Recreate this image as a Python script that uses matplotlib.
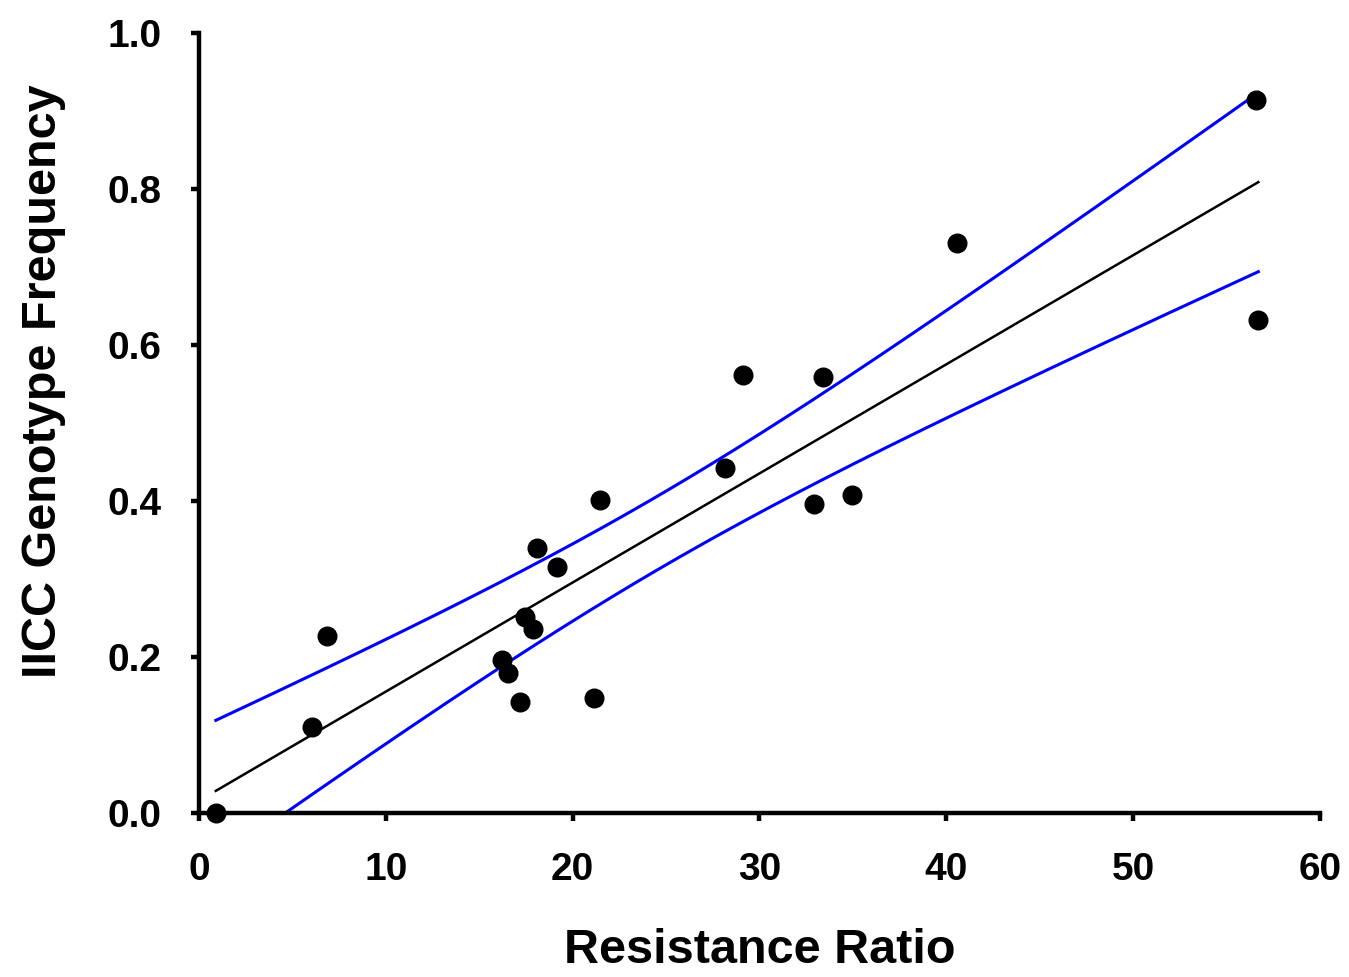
import numpy as np
import matplotlib
matplotlib.use("Agg")
import matplotlib.pyplot as plt

# Data
resistance_ratio = [0.9, 6.05, 6.85, 16.2, 16.55, 17.2, 17.45, 17.9, 18.1, 19.15,
                    21.15, 21.47, 28.16, 29.12, 32.9, 33.4, 34.96, 40.58, 56.6, 56.7]
iicc_freq = [0.0, 0.110, 0.227, 0.196, 0.179, 0.142, 0.251, 0.236, 0.340, 0.315,
             0.147, 0.401, 0.442, 0.562, 0.396, 0.559, 0.408, 0.731, 0.914, 0.632]
x_ticks = [0, 10, 20, 30, 40, 50, 60]
y_ticks = [0.0, 0.2, 0.4, 0.6, 0.8, 1.0]
x_label = "Resistance Ratio"
y_label = "IICC Genotype Frequency"

plt.rcParams['font.family'] = ['Liberation Sans', 'DejaVu Sans']
plt.rcParams['font.weight'] = 'bold'

x = np.array(resistance_ratio)
y = np.array(iicc_freq)
n = len(x)
slope, intercept = np.polyfit(x, y, 1)
xs = np.linspace(x.min(), x.max(), 200)
yhat = intercept + slope * xs
resid = y - (intercept + slope * x)
s = np.sqrt(np.sum(resid ** 2) / (n - 2))
sxx = np.sum((x - x.mean()) ** 2)
t = 2.101  # t(0.975, df=18)
half = t * s * np.sqrt(1.0 / n + (xs - x.mean()) ** 2 / sxx)

fig = plt.figure(figsize=(13.49, 9.77), dpi=100)
ax = fig.add_axes([0.1475, 0.1679, 0.8310, 0.7983])

ax.plot(xs, yhat, color='black', lw=1.8, zorder=2)
ax.plot(xs, yhat + half, color='#0000ff', lw=2.2, zorder=2)
ax.plot(xs, yhat - half, color='#0000ff', lw=2.2, zorder=2)
ax.scatter(x, y, s=180, color='black', zorder=3, clip_on=False)

ax.set_xlim(0, 60)
ax.set_ylim(0, 1.0)
ax.set_xticks(x_ticks)
ax.set_yticks(y_ticks)
ax.set_yticklabels([f"{v:.1f}" for v in y_ticks])
ax.set_xticklabels([str(v) for v in x_ticks])

for side in ['top', 'right']:
    ax.spines[side].set_visible(False)
for side in ['left', 'bottom']:
    ax.spines[side].set_linewidth(3.2)
ax.tick_params(axis='both', which='major', direction='out', length=6, width=3.2,
               labelsize=28)
ax.tick_params(axis='y', pad=21)
ax.tick_params(axis='x', pad=22)
for lab in ax.get_xticklabels() + ax.get_yticklabels():
    lab.set_fontweight('bold')

ax.set_xlabel(x_label, fontsize=35, fontweight='bold', labelpad=29)
ax.set_ylabel(y_label, fontsize=35, fontweight='bold', labelpad=30)
ax.yaxis.label.set_y(0.553)

fig.savefig("out.png", dpi=100, facecolor='white')
